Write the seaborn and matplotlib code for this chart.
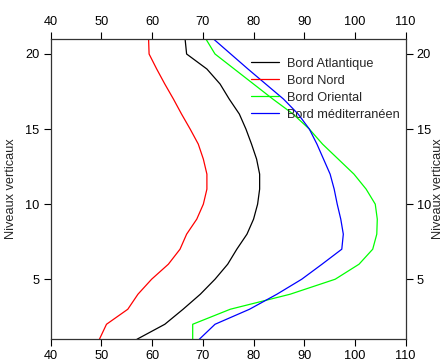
import numpy as np
import pandas as pd
import matplotlib
matplotlib.use("Agg")
import matplotlib.pyplot as plt
import seaborn as sns

levels = list(range(1, 22))
atlantique = [57.0, 62.5, 66.1, 69.5, 72.4, 74.9, 76.7, 78.7, 80.0, 80.8, 81.2,
              81.2, 80.6, 79.6, 78.5, 77.2, 75.2, 73.4, 70.8, 66.8, 66.5]
nord = [49.6, 51.0, 55.2, 57.2, 59.9, 63.2, 65.5, 66.8, 68.8, 70.1, 70.8,
        70.8, 70.1, 69.1, 67.5, 65.8, 64.2, 62.5, 60.9, 59.4, 59.3]
oriental = [68.0, 68.0, 75.4, 87.2, 96.1, 100.8, 103.5, 104.3, 104.4, 104.0, 102.2,
            99.8, 96.7, 93.6, 91.0, 87.8, 83.8, 80.0, 76.2, 72.4, 70.6]
mediterraneen = [69.3, 72.4, 79.2, 84.6, 89.5, 93.5, 97.4, 97.7, 97.2, 96.5, 95.9,
                 95.1, 93.8, 92.5, 91.0, 88.8, 85.9, 82.4, 78.9, 75.5, 72.1]
series_names = ["Bord Atlantique", "Bord Nord", "Bord Oriental", "Bord méditerranéen"]
series_values = [atlantique, nord, oriental, mediterraneen]
colors = ["#000000", "#ff0000", "#00ff00", "#0000ff"]
xticks = [40, 50, 60, 70, 80, 90, 100, 110]
yticks = [5, 10, 15, 20]

rows = []
for name, vals in zip(series_names, series_values):
    for lv, v in zip(levels, vals):
        rows.append({"serie": name, "niveau": lv, "valeur": v})
df = pd.DataFrame(rows)

sns.set_style("ticks")
plt.rcParams["font.family"] = ["Liberation Sans", "DejaVu Sans"]
fs = 9.2
plt.rcParams["font.size"] = fs

fig = plt.figure(figsize=(4.46, 3.64), dpi=100)
ax = fig.add_axes([0.1137, 0.0679, 0.7959, 0.825])

sns.lineplot(data=df, x="valeur", y="niveau", hue="serie", hue_order=series_names,
             palette=colors, sort=False, estimator=None, linewidth=0.9, ax=ax)

ax.set_xlim(40, 110)
ax.set_ylim(1, 21)
ax.set_xticks(xticks)
ax.set_yticks(yticks)
ax.set_xlabel("")
ax.set_ylabel("Niveaux verticaux", fontsize=fs, labelpad=6)
ax.tick_params(direction="out", length=5, width=0.8, colors="black", labelsize=fs,
               top=True, labeltop=True, right=True, labelright=True, pad=3)
for s in ax.spines.values():
    s.set_visible(True)
    s.set_color("#333333")
    s.set_linewidth(0.9)

sec = ax.secondary_yaxis("right")
sec.set_yticks([])
sec.spines["right"].set_visible(False)
sec.set_ylabel("Niveaux verticaux", fontsize=fs, labelpad=19)

leg = ax.legend(loc="upper right", bbox_to_anchor=(1.0085, 0.968), frameon=False,
                fontsize=fs, handlelength=2.2, handletextpad=0.6, labelspacing=0.4,
                borderaxespad=0.3)

fig.savefig("out.png", dpi=100)
